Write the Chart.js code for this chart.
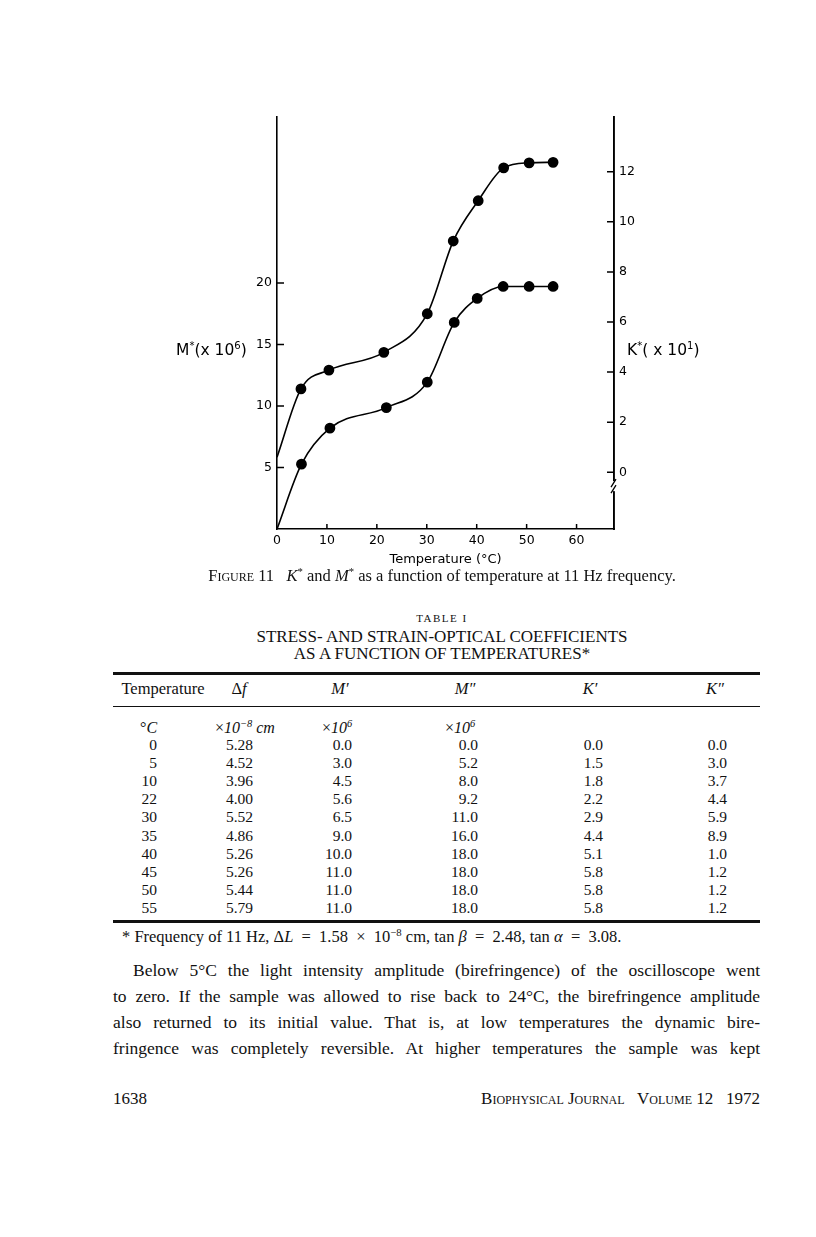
<!DOCTYPE html>
<html>
<head>
<meta charset="utf-8">
<script src="https://cdn.jsdelivr.net/npm/chart.js@4.4.0/dist/chart.umd.min.js"></script>
<style>
  body { margin: 0; width: 816px; height: 1237px; background: #fff; position: relative;
         font-family: "Liberation Serif", "Times New Roman", serif; color: #111; }
  .t { position: absolute; white-space: nowrap; line-height: 1; }
  .fig { font-family: "DejaVu Sans", sans-serif; color: #000; }
  .rule { position: absolute; left: 113px; width: 647px; background: #111; }
  .para { position: absolute; left: 113px; width: 647px; font-size: 17.5px; line-height: 1;
          text-align: justify; text-align-last: justify; white-space: nowrap; }
  sup { font-size: 65%; line-height: 0; }
</style>
</head>
<body>

<div style="position:absolute;left:150px;top:100px;width:600px;height:470px">
  <canvas id="chart" width="600" height="470"></canvas>
</div>

<div class="t fig" style="left:176px;top:343px;font-size:15.5px">M<sup>*</sup>(x 10<sup>6</sup>)</div>
<div class="t fig" style="left:627px;top:343px;font-size:15.5px">K<sup>*</sup>( x 10<sup>1</sup>)</div>

<div id="page"></div>

<script>
// K* curve (right axis)
const kTemp = [0, 4.8, 10.4, 21.4, 30.1, 35.3, 40.3, 45.4, 50.5, 55.3];
const kStar = [0.6, 3.33, 4.08, 4.79, 6.33, 9.23, 10.84, 12.15, 12.35, 12.37];
// M* curve (left axis)
const mTemp = [0, 4.9, 10.6, 21.9, 30.1, 35.5, 40.1, 45.3, 50.5, 55.3];
const mStar = [0, 5.27, 8.2, 9.87, 11.94, 16.8, 18.75, 19.72, 19.72, 19.72];

const xTicks = [0, 10, 20, 30, 40, 50, 60];
const mTicks = [5, 10, 15, 20];
const kTicks = [0, 2, 4, 6, 8, 10, 12];
const kBreak = -0.55;

// Table I
const tTemp = ['0', '5', '10', '22', '30', '35', '40', '45', '50', '55'];
const tDf   = ['5.28', '4.52', '3.96', '4.00', '5.52', '4.86', '5.26', '5.26', '5.44', '5.79'];
const tM1   = ['0.0', '3.0', '4.5', '5.6', '6.5', '9.0', '10.0', '11.0', '11.0', '11.0'];
const tM2   = ['0.0', '5.2', '8.0', '9.2', '11.0', '16.0', '18.0', '18.0', '18.0', '18.0'];
const tK1   = ['0.0', '1.5', '1.8', '2.2', '2.9', '4.4', '5.1', '5.8', '5.8', '5.8'];
const tK2   = ['0.0', '3.0', '3.7', '4.4', '5.9', '8.9', '1.0', '1.2', '1.2', '1.2'];

const pts = (xs, ys) => xs.map((x, i) => ({ x: x, y: ys[i] }));
const radii = xs => xs.map(x => x === 0 ? 0 : 4.6);

// inward tick marks + axis break on the right axis
const axisMarks = {
    id: 'axisMarks',
    afterDraw(chart) {
        const { ctx, chartArea } = chart;
        const sx = chart.scales.x, sy = chart.scales.y, sk = chart.scales.y1;
        ctx.save();
        ctx.strokeStyle = '#000';
        ctx.lineWidth = 1.5;
        ctx.beginPath();
        xTicks.forEach(v => {
            if (v === 0) return;
            const px = sx.getPixelForValue(v);
            ctx.moveTo(px, chartArea.bottom); ctx.lineTo(px, chartArea.bottom - 5);
        });
        mTicks.forEach(v => {
            const py = sy.getPixelForValue(v);
            ctx.moveTo(chartArea.left, py); ctx.lineTo(chartArea.left + 7, py);
        });
        kTicks.forEach(v => {
            const py = sk.getPixelForValue(v);
            ctx.moveTo(chartArea.right, py); ctx.lineTo(chartArea.right - 7, py);
        });
        ctx.stroke();

        const by = sk.getPixelForValue(kBreak);
        const r = chartArea.right;
        ctx.fillStyle = '#fff';
        ctx.fillRect(r - 3, by - 5, 6, 10);
        ctx.lineWidth = 1.3;
        ctx.beginPath();
        ctx.moveTo(r - 3, by + 1); ctx.lineTo(r + 2, by - 7);
        ctx.moveTo(r - 3, by + 7); ctx.lineTo(r + 2, by - 1);
        ctx.stroke();
        ctx.restore();
    }
};

const figFont = { family: 'DejaVu Sans', size: 12.5 };

new Chart(document.getElementById('chart'), {
    type: 'line',
    data: {
        datasets: [
            { label: 'K*', data: pts(kTemp, kStar), yAxisID: 'y1',
              borderColor: '#000', backgroundColor: '#000', borderWidth: 1.6,
              pointRadius: radii(kTemp), cubicInterpolationMode: 'monotone' },
            { label: 'M*', data: pts(mTemp, mStar), yAxisID: 'y',
              borderColor: '#000', backgroundColor: '#000', borderWidth: 1.6,
              pointRadius: radii(mTemp), cubicInterpolationMode: 'monotone' }
        ]
    },
    options: {
        responsive: false,
        animation: false,
        devicePixelRatio: 1,
        layout: { padding: { top: 17, left: 0, right: 0, bottom: 0 } },
        plugins: { legend: { display: false }, tooltip: { enabled: false } },
        scales: {
            x: {
                type: 'linear', min: 0, max: 67.5,
                afterBuildTicks: s => { s.ticks = xTicks.map(v => ({ value: v })); },
                afterFit: s => { s.height = 41; },
                grid: { display: true, drawOnChartArea: false, drawTicks: false },
                border: { display: true, color: '#000', width: 1.6 },
                ticks: { color: '#000', font: figFont, padding: 4, maxRotation: 0, autoSkip: false },
                title: { display: true, text: 'Temperature (°C)', color: '#000',
                         font: { family: 'DejaVu Sans', size: 13 }, padding: { top: 0, bottom: 3 } }
            },
            y: {
                position: 'left', min: 0, max: 33.5,
                afterBuildTicks: s => { s.ticks = mTicks.map(v => ({ value: v })); },
                afterFit: s => { s.width = 127; },
                grid: { display: true, drawOnChartArea: false, drawTicks: false },
                border: { display: true, color: '#000', width: 1.6 },
                ticks: { color: '#000', font: figFont, padding: 5 }
            },
            y1: {
                position: 'right', min: -2.26, max: 14.18,
                afterBuildTicks: s => { s.ticks = kTicks.map(v => ({ value: v })); },
                afterFit: s => { s.width = 136; },
                grid: { display: true, drawOnChartArea: false, drawTicks: false },
                border: { display: true, color: '#000', width: 1.9 },
                ticks: { color: '#000', font: figFont, padding: 5 }
            }
        }
    },
    plugins: [axisMarks]
});

// page text around the figure
const page = document.getElementById('page');
function add(html, style) {
    const d = document.createElement('div');
    d.className = 't';
    d.style.cssText = style;
    d.innerHTML = html;
    page.appendChild(d);
}
function rule(top, h) {
    const d = document.createElement('div');
    d.className = 'rule';
    d.style.top = top + 'px';
    d.style.height = h + 'px';
    page.appendChild(d);
}

add('<span style="font-variant:small-caps">Figure</span> 11&nbsp;&nbsp; <i>K</i><sup>*</sup> and <i>M</i><sup>*</sup> as a function of temperature at 11 Hz frequency.',
    'left:0;width:884px;text-align:center;top:568px;font-size:16.5px');
add('TABLE I', 'left:0;width:884px;text-align:center;top:613px;font-size:11px;letter-spacing:1.5px');
add('STRESS- AND STRAIN-OPTICAL COEFFICIENTS', 'left:0;width:884px;text-align:center;top:628px;font-size:17px');
add('AS A FUNCTION OF TEMPERATURES*', 'left:0;width:884px;text-align:center;top:645px;font-size:17px');

rule(672, 3);
const heads = ['Temperature', '&Delta;<i>f</i>', '<i>M&prime;</i>', '<i>M&Prime;</i>', '<i>K&prime;</i>', '<i>K&Prime;</i>'];
const headX = [163, 239, 340, 465, 590, 715];
heads.forEach((h, i) => add(h, `left:${headX[i] - 60}px;width:120px;text-align:center;top:681px;font-size:16.5px`));
rule(706, 1);

const units = ['&deg;<i>C</i>', '&times;<i>10<sup>&minus;8</sup> cm</i>', '&times;<i>10<sup>6</sup></i>', '&times;<i>10<sup>6</sup></i>'];
const unitX = [140, 215, 322, 445];
units.forEach((u, i) => add(u, `left:${unitX[i]}px;top:720px;font-size:16px`));

const colRight = [157, 253, 352, 478, 603, 727];
const cols = [tTemp, tDf, tM1, tM2, tK1, tK2];
cols.forEach((col, c) => col.forEach((v, r) => {
    add(v, `right:${816 - colRight[c]}px;top:${737 + r * 18.1}px;font-size:15.5px`);
}));
rule(920, 3);
add('* Frequency of 11 Hz, &Delta;<i>L</i>&ensp;=&ensp;1.58&ensp;&times;&ensp;10<sup>&minus;8</sup> cm, tan <i>&beta;</i>&ensp;=&ensp;2.48, tan <i>&alpha;</i>&ensp;=&ensp;3.08.',
    'left:122px;top:929px;font-size:16.5px');

const lines = [
    'Below 5°C the light intensity amplitude (birefringence) of the oscilloscope went',
    'to zero. If the sample was allowed to rise back to 24°C, the birefringence amplitude',
    'also returned to its initial value. That is, at low temperatures the dynamic bire-',
    'fringence was completely reversible. At higher temperatures the sample was kept'
];
lines.forEach((ln, i) => {
    const d = document.createElement('div');
    d.className = 'para';
    d.style.top = (962 + i * 26) + 'px';
    if (i === 0) { d.style.left = '133px'; d.style.width = '627px'; }
    d.textContent = ln;
    page.appendChild(d);
});

add('1638', 'left:113px;top:1090px;font-size:17px');
add('<span style="font-variant:small-caps">Biophysical Journal&nbsp;&nbsp; Volume</span> 12&nbsp;&nbsp; 1972',
    'right:56px;top:1090px;font-size:17px');
</script>
</body>
</html>
